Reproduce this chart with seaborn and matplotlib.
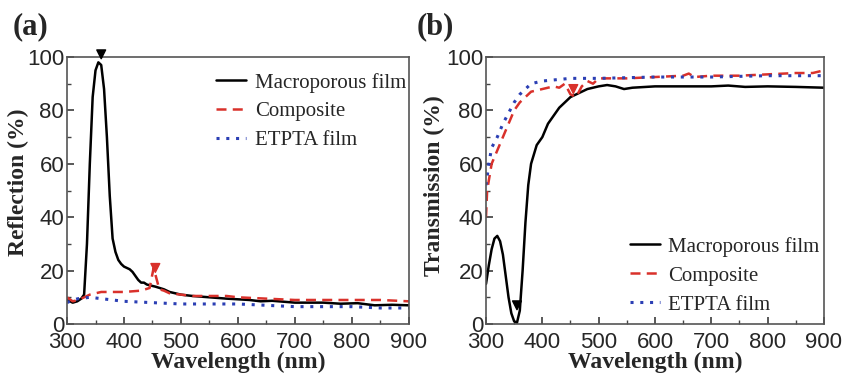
import pandas as pd
import matplotlib.pyplot as plt
import matplotlib.ticker as mticker
import seaborn as sns

# --- DATA ---
# (a) reflection spectra
wl_ref_mac = [300, 305, 310, 318, 325, 330, 335, 340, 345, 350, 355, 360, 365, 370, 375,
              380, 385, 390, 395, 400, 405, 410, 415, 420, 425, 430, 435, 440, 445, 455,
              470, 480, 500, 520, 550, 580, 620, 640, 660, 700, 750, 780, 810, 840, 870, 900]
ref_mac = [9, 8.5, 8, 8.5, 9.5, 11, 30, 60, 85, 95, 98, 97, 88, 70, 48,
           32, 27, 24, 22.5, 21.5, 21, 20.5, 19.5, 18, 16.5, 15.5, 15.5, 14.8, 14.5, 14,
           13, 12, 11, 10.5, 10, 9.5, 9, 8.5, 8.7, 8, 8, 7.6, 7.8, 7, 7.2, 7]

wl_ref_comp = [300, 310, 320, 330, 340, 360, 380, 400, 430, 445, 452, 462, 470, 480, 500,
               520, 550, 580, 600, 650, 700, 750, 800, 850, 900]
ref_comp = [10, 8.5, 9, 10, 11, 12, 12, 12, 12.5, 13.5, 21, 13, 12.5, 11.5, 11,
            10.5, 10.5, 10.5, 10, 9.5, 9, 9, 9, 9, 8.5]

wl_ref_etp = [300, 310, 320, 340, 360, 380, 400, 450, 500, 550, 600, 650, 700, 750, 800, 850, 900]
ref_etp = [8, 9, 9.5, 10, 9.5, 9, 8.5, 8, 7.5, 7.5, 7.5, 7, 6.5, 6.5, 6.5, 6, 6]

# (b) transmission spectra
wl_tr_mac = [300, 305, 310, 315, 320, 325, 330, 335, 340, 345, 350, 355, 360, 365, 370,
             375, 380, 390, 400, 410, 420, 430, 440, 450, 460, 470, 480, 500, 515, 530,
             545, 560, 600, 650, 700, 730, 760, 800, 850, 900]
tr_mac = [15, 22, 28, 32, 33, 31, 26, 18, 10, 4, 1, 0.5, 5, 20, 38,
          52, 60, 67, 70, 75, 78, 81, 83, 85, 86, 87, 88, 89, 89.5, 89,
          88, 88.5, 89, 89, 89, 89.3, 88.8, 89, 88.8, 88.5]

wl_tr_comp = [300, 302, 310, 320, 330, 340, 350, 360, 370, 380, 400, 420, 430, 440, 450,
              460, 470, 480, 490, 500, 550, 600, 650, 660, 670, 700, 750, 800, 850, 880, 900]
tr_comp = [40, 50, 60, 65, 70, 75, 80, 83, 85, 87, 88, 89, 88.5, 90, 86,
           85, 89, 91, 90, 92, 92, 92.5, 93, 93.8, 92.5, 93, 93, 93.5, 94, 94, 95]

wl_tr_etp = [300, 305, 310, 320, 330, 340, 350, 360, 370, 380, 400, 450, 500, 600, 700, 800, 900]
tr_etp = [52, 60, 66, 70, 75, 79, 83, 86, 88, 90, 91, 92, 92, 92.5, 92.5, 93, 93]

# arrow markers on the curves
ref_marks_x = [360, 455]
ref_marks_y = [101, 21]
tr_marks_x = [355, 455]
tr_marks_y = [7, 88]

series_names = ['Macroporous film', 'Composite', 'ETPTA film']
colors = ['black', '#d9312b', '#2b3fb4']

sns.set_theme(style="ticks")
plt.rcParams['font.family'] = ['Liberation Sans', 'DejaVu Sans']
serif = ['Liberation Serif', 'DejaVu Serif']

fig = plt.figure(figsize=(8.42, 3.79), dpi=100)
ax1 = fig.add_axes([0.0796, 0.1451, 0.406, 0.7045])
ax2 = fig.add_axes([0.5772, 0.1451, 0.4014, 0.7045])

styles = [dict(linestyle='-', linewidth=1.8),
          dict(linestyle=(0, (4, 2.5)), linewidth=1.8),
          dict(linestyle=(0, (1, 2.2)), linewidth=2.2)]


def draw(ax, xs, ys, mx, my):
    for x, y, name, c, st in zip(xs, ys, series_names, colors, styles):
        sns.lineplot(x=x, y=y, ax=ax, color=c, label=name, **st)
    ax.scatter(mx, my, marker='v', s=40, color=['black', colors[1]], zorder=5, clip_on=False)
    ax.set_xlim(300, 900)
    ax.set_ylim(0, 100)
    ax.xaxis.set_major_locator(mticker.MultipleLocator(100))
    ax.xaxis.set_minor_locator(mticker.MultipleLocator(50))
    ax.yaxis.set_major_locator(mticker.MultipleLocator(20))
    ax.yaxis.set_minor_locator(mticker.MultipleLocator(10))
    ax.tick_params(which='both', direction='in', labelsize=16, color='#444444')
    ax.tick_params(axis='x', pad=6)
    ax.tick_params(axis='y', pad=2)
    ax.tick_params(which='major', length=5)
    ax.tick_params(which='minor', length=3)
    for s in ax.spines.values():
        s.set_color('#555555')
        s.set_linewidth(1.2)
    ax.set_xlabel('Wavelength (nm)', family=serif, fontweight='bold', fontsize=17, labelpad=-1)


draw(ax1, [wl_ref_mac, wl_ref_comp, wl_ref_etp], [ref_mac, ref_comp, ref_etp], ref_marks_x, ref_marks_y)
draw(ax2, [wl_tr_mac, wl_tr_comp, wl_tr_etp], [tr_mac, tr_comp, tr_etp], tr_marks_x, tr_marks_y)

ax1.set_ylabel('Reflection (%)', family=serif, fontweight='bold', fontsize=17)
ax1.yaxis.set_label_coords(-0.11, 0.53)
ax2.set_ylabel('Transmission (%)', family=serif, fontweight='bold', fontsize=17)
ax2.yaxis.set_label_coords(-0.12, 0.52)

leg_kw = dict(frameon=False, prop={'family': serif, 'size': 15}, handlelength=1.45,
              handletextpad=0.4, labelspacing=0.45, borderaxespad=0.0, borderpad=0.3)
ax1.legend(loc='upper right', bbox_to_anchor=(1.01, 0.965), **leg_kw)
ax2.legend(loc='lower right', bbox_to_anchor=(1.005, 0.012), **leg_kw)

fig.text(0.015, 0.93, '(a)', family=serif, fontweight='bold', fontsize=22, va='center')
fig.text(0.495, 0.93, '(b)', family=serif, fontweight='bold', fontsize=22, va='center')

plt.savefig('out.png', dpi=100)
plt.close()
